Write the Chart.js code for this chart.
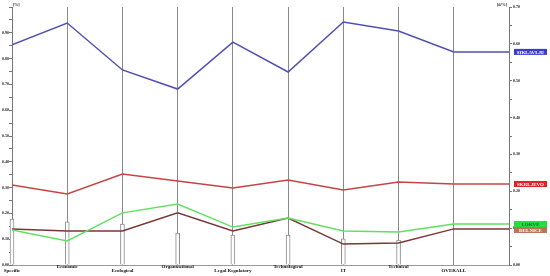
<!DOCTYPE html>
<html>
<head>
<meta charset="utf-8">
<script src="https://cdn.jsdelivr.net/npm/chart.js@4.4.0/dist/chart.umd.min.js"></script>
<style>
html, body { margin: 0; padding: 0; background: #fff; }
</style>
</head>
<body>
<canvas id="chart" width="550" height="276"></canvas>
<script>
const categories = ["Specific", "Economic", "Ecological", "Organizational", "Legal Regulatory", "Technological", "IT", "Technical", "OVERALL"];

const siklavlje = [0.853, 0.938, 0.756, 0.682, 0.864, 0.748, 0.942, 0.907, 0.826];
const skrljevo  = [0.310, 0.275, 0.353, 0.326, 0.298, 0.329, 0.291, 0.322, 0.314];
const lokve     = [0.136, 0.093, 0.202, 0.236, 0.147, 0.182, 0.132, 0.128, 0.159];
const delnice   = [0.140, 0.132, 0.132, 0.202, 0.132, 0.182, 0.081, 0.085, 0.140];

// white bars standing on each category axis
const barValues = [0.178, 0.167, 0.159, 0.124, 0.116, 0.116, 0.101, 0.097];

const seriesNames = ["SIKLAVLJE", "SKRLJEVO", "LOKVE", "DELNICE"];
const lineColors  = ["#5050b0", "#c84444", "#62e062", "#7b3636"];
const boxColors   = ["#3c3cc8", "#e0202c", "#22e03c", "#b8735a"];
const boxText     = ["#fff", "#fff", "#063", "#fff"];

const lastX = categories.length; // right axis position

function toPoints(vals) {
    const pts = vals.map((v, i) => ({ x: i, y: v }));
    pts.push({ x: lastX, y: vals[vals.length - 1] }); // flat run out to right axis
    return pts;
}

const lineSets = [siklavlje, skrljevo, lokve, delnice].map((vals, i) => ({
    type: "line",
    label: seriesNames[i],
    data: toPoints(vals),
    borderColor: lineColors[i],
    borderWidth: 1.5,
    pointRadius: 0,
    tension: 0,
    fill: false,
    yAxisID: "y",
    order: 1,
    endLabel: i
}));

const endLabels = {
    id: "endLabels",
    afterDatasetsDraw(chart) {
        const c = chart.ctx;
        const area = chart.chartArea;
        const h = 6;
        const items = [];
        chart.data.datasets.forEach((ds, i) => {
            if (ds.endLabel === undefined) return;
            const meta = chart.getDatasetMeta(i);
            const pt = meta.data[meta.data.length - 1];
            items.push({ y: pt.y - h / 2, k: ds.endLabel });
        });
        items.sort((a, b) => a.y - b.y);
        for (let i = 1; i < items.length; i++) {
            if (items[i].y < items[i - 1].y + h) items[i].y = items[i - 1].y + h;
        }
        c.save();
        c.font = "bold 5px 'Liberation Serif'";
        c.textAlign = "center";
        c.textBaseline = "middle";
        items.forEach(it => {
            c.fillStyle = boxColors[it.k];
            c.fillRect(area.right + 5, it.y, 33, h);
            c.fillStyle = boxText[it.k];
            c.fillText(seriesNames[it.k], area.right + 21.5, it.y + h / 2 + 0.5);
        });
        // unit captions at axis tops
        c.fillStyle = "#222";
        c.font = "bold 4px 'Liberation Serif'";
        c.textAlign = "left";
        c.fillText("[%]", area.left + 1, area.top - 2);
        c.textAlign = "right";
        c.fillText("[d/%]", area.right - 2, area.top - 2);
        c.restore();
    }
};

function tickLabel(max) {
    return v => {
        const t = Math.round(v * 100);
        if (t % 10 !== 0 || v > max + 1e-9) return "";
        return v.toFixed(2);
    };
}

const ctx = document.getElementById("chart").getContext("2d");

new Chart(ctx, {
    type: "line",
    data: {
        datasets: [
            ...lineSets,
            {
                type: "bar",
                label: "bars",
                data: barValues.map((v, i) => ({ x: i, y: v })),
                backgroundColor: "#ffffff",
                borderColor: "#8c8c8c",
                borderWidth: 1,
                barThickness: 4,
                yAxisID: "y",
                order: 5,
                clip: false
            }
        ]
    },
    options: {
        responsive: false,
        animation: false,
        layout: { padding: { top: 7, left: 0, right: 0, bottom: 0 } },
        plugins: {
            legend: { display: false },
            tooltip: { enabled: false }
        },
        scales: {
            x: {
                type: "linear",
                min: 0,
                max: lastX,
                offset: false,
                afterFit: s => { s.height = 11; },
                grid: {
                    offset: false,
                    drawTicks: false,
                    color: c => (c.tick && c.tick.value > 0 && c.tick.value < lastX) ? "#8a8a8a" : "rgba(0,0,0,0)",
                    lineWidth: 1
                },
                border: { display: true, color: "#9a9a9a" },
                ticks: {
                    stepSize: 1,
                    autoSkip: false,
                    maxRotation: 0,
                    padding: 0,
                    color: "#111",
                    font: { family: "'Liberation Serif'", size: 5, weight: "bold", lineHeight: 0.8 },
                    callback: v => {
                        const name = categories[v];
                        if (!name) return "";
                        return v % 2 === 0 ? ["", name] : [name];
                    }
                }
            },
            y: {
                position: "left",
                min: 0,
                max: 1,
                afterFit: s => { s.width = 12; },
                grid: { drawOnChartArea: false, tickLength: 3, tickColor: "#777" },
                border: { display: true, color: "#777" },
                ticks: {
                    stepSize: 0.05,
                    autoSkip: false,
                    padding: 0,
                    color: "#222",
                    font: { family: "'Liberation Serif'", size: 4, weight: "bold" },
                    callback: tickLabel(0.9)
                }
            },
            y1: {
                position: "right",
                min: 0,
                max: 0.7,
                afterFit: s => { s.width = 41; },
                grid: { drawOnChartArea: false, tickLength: 3, tickColor: "#777" },
                border: { display: true, color: "#777" },
                ticks: {
                    stepSize: 0.05,
                    autoSkip: false,
                    padding: 1,
                    color: "#222",
                    font: { family: "'Liberation Serif'", size: 4, weight: "bold" },
                    callback: tickLabel(0.7)
                }
            }
        }
    },
    plugins: [endLabels]
});
</script>
</body>
</html>
